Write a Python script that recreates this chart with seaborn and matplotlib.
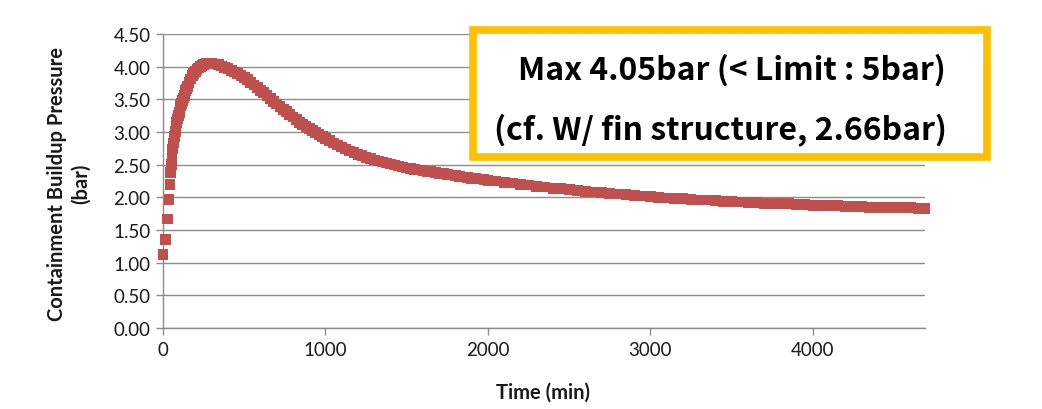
import numpy as np
import pandas as pd
import matplotlib
matplotlib.use("Agg")
import matplotlib.pyplot as plt
import seaborn as sns
from matplotlib.patches import Rectangle

# ---- data ----
time_min = [0, 15, 28, 37, 43, 47,
            50, 55, 60, 65, 70, 75, 80, 85, 90, 95, 100, 105, 110, 115, 120,
            125, 130, 135, 140, 145, 150, 160, 170, 180, 190, 200, 210, 220,
            230, 240, 250, 260, 270, 280, 290, 300,
            320, 340, 360, 380, 400, 420, 440, 460, 480, 500, 520, 540, 560,
            580, 600, 620, 640, 660, 680, 700, 720, 740, 760, 780, 800, 820,
            840, 860, 880, 900, 920, 940, 960, 980, 1000,
            1025, 1050, 1075, 1100, 1125, 1150, 1175, 1200, 1225, 1250, 1275,
            1300, 1325, 1350, 1375, 1400, 1425, 1450, 1475, 1500, 1525, 1550,
            1575, 1600, 1625, 1650, 1675, 1700, 1725, 1750, 1775, 1800, 1825,
            1850, 1875, 1900, 1925, 1950, 1975, 2000,
            2050, 2100,
            2150, 2200, 2250, 2300, 2350, 2400, 2450, 2500, 2550, 2600, 2650,
            2700, 2750, 2800, 2850, 2900, 2950, 3000, 3050, 3100, 3150, 3200,
            3250, 3300, 3350, 3400, 3450, 3500, 3550, 3600, 3650, 3700, 3750,
            3800, 3850, 3900, 3950, 4000, 4050, 4100, 4150, 4200, 4250, 4300,
            4350, 4400, 4450, 4500, 4550, 4600, 4650, 4690]
pressure_bar = [1.12, 1.35, 1.67, 1.97, 2.20, 2.38,
                2.50, 2.63, 2.74, 2.83, 2.93, 3.01, 3.08, 3.14, 3.20, 3.25, 3.30,
                3.35, 3.40, 3.44, 3.48, 3.52, 3.56, 3.60, 3.63, 3.66, 3.70, 3.76,
                3.81, 3.86, 3.90, 3.93, 3.96, 3.98, 4.00, 4.02, 4.03, 4.04, 4.05,
                4.05, 4.05, 4.05,
                4.04, 4.03, 4.01, 3.99, 3.97, 3.94, 3.92, 3.89, 3.86, 3.83, 3.80,
                3.76, 3.72, 3.68, 3.64, 3.60, 3.56, 3.51, 3.47, 3.43, 3.39, 3.35,
                3.31, 3.27, 3.23, 3.19, 3.15, 3.12, 3.08, 3.05, 3.02, 2.99, 2.96,
                2.93, 2.90,
                2.865, 2.83, 2.80, 2.77, 2.74, 2.71, 2.685, 2.66, 2.635, 2.61,
                2.59, 2.57, 2.555, 2.54, 2.525, 2.51, 2.495, 2.48, 2.465, 2.45,
                2.44, 2.43, 2.42, 2.41, 2.40, 2.39, 2.38, 2.37, 2.36, 2.35, 2.34,
                2.33, 2.32, 2.31, 2.30, 2.29, 2.285, 2.28, 2.27, 2.26,
                2.25, 2.23,
                2.22, 2.20, 2.19, 2.17, 2.16, 2.14, 2.13, 2.12, 2.10, 2.09, 2.08,
                2.07, 2.06, 2.05, 2.04, 2.03, 2.02, 2.01, 2.00, 1.99, 1.98, 1.98,
                1.97, 1.96, 1.96, 1.95, 1.94, 1.94, 1.93, 1.92, 1.92, 1.91, 1.91,
                1.90, 1.90, 1.89, 1.89, 1.88, 1.88, 1.87, 1.87, 1.86, 1.86, 1.86,
                1.85, 1.85, 1.85, 1.84, 1.84, 1.84, 1.83, 1.83]
x_ticks = [0, 1000, 2000, 3000, 4000]
y_ticks = [0.0, 0.5, 1.0, 1.5, 2.0, 2.5, 3.0, 3.5, 4.0, 4.5]
x_label = "Time (min)"
y_label = "Containment Buildup Pressure\n(bar)"
note_line1 = "Max 4.05bar (< Limit : 5bar)"
note_line2 = "(cf. W/ fin structure, 2.66bar)"

df = pd.DataFrame({"time": time_min, "pressure": pressure_bar})

sns.set_theme(style="white")
plt.rcParams["font.family"] = ["Lato", "DejaVu Sans"]

W, H = 1042, 410
fig = plt.figure(figsize=(W / 100, H / 100), dpi=100)
ax = fig.add_axes([163 / W, 1 - 329 / H, (925 - 163) / W, (329 - 35) / H])

sns.scatterplot(data=df, x="time", y="pressure", ax=ax, marker="s", s=60,
                color="#C0504D", edgecolor="none", linewidth=0, clip_on=False,
                zorder=3, legend=False)

ax.set_xlim(0, 4690)
ax.set_ylim(0, 4.5)
ax.set_xticks(x_ticks)
ax.set_yticks(y_ticks)
ax.set_yticklabels([f"{v:.2f}" for v in y_ticks])
ax.set_xticklabels([str(v) for v in x_ticks])
ax.yaxis.grid(True, color="#8c8c8c", linewidth=1.0)
ax.xaxis.grid(False)
ax.set_axisbelow(True)
for s in ["top", "right"]:
    ax.spines[s].set_visible(False)
for s in ["left", "bottom"]:
    ax.spines[s].set_color("#8c8c8c")
    ax.spines[s].set_linewidth(1.0)
ax.tick_params(axis="both", which="major", direction="out", length=5,
               width=1, color="#8c8c8c", labelsize=13.5, labelcolor="#1a1a1a",
               left=True, bottom=True, pad=4)
ax.set_xlabel("")
ax.set_ylabel("")

fig.text(69 / W, 1 - 184 / H, y_label, rotation=90, ha="center", va="center",
         fontsize=14.5, fontweight="bold", color="#1a1a1a", linespacing=1.2)
fig.text(543 / W, 1 - 393 / H, x_label, ha="center", va="center",
         fontsize=14.5, fontweight="bold", color="#1a1a1a")

# annotation box
bx0, by0, bx1, by1 = 473, 31, 987, 158
rect = Rectangle((bx0 / W, 1 - by1 / H), (bx1 - bx0) / W, (by1 - by0) / H,
                 transform=fig.transFigure, facecolor="white",
                 edgecolor="#FFC000", linewidth=5.5, zorder=5)
fig.patches.append(rect)
fig.text(732 / W, 1 - 70 / H, note_line1, ha="center", va="center",
         fontsize=23, fontweight="bold", color="black", zorder=6,
         family=["Noto Sans CJK KR", "DejaVu Sans"])
fig.text(721 / W, 1 - 130 / H, note_line2, ha="center", va="center",
         fontsize=23, fontweight="bold", color="black", zorder=6,
         family=["Noto Sans CJK KR", "DejaVu Sans"])

fig.savefig("out.png", dpi=100)
